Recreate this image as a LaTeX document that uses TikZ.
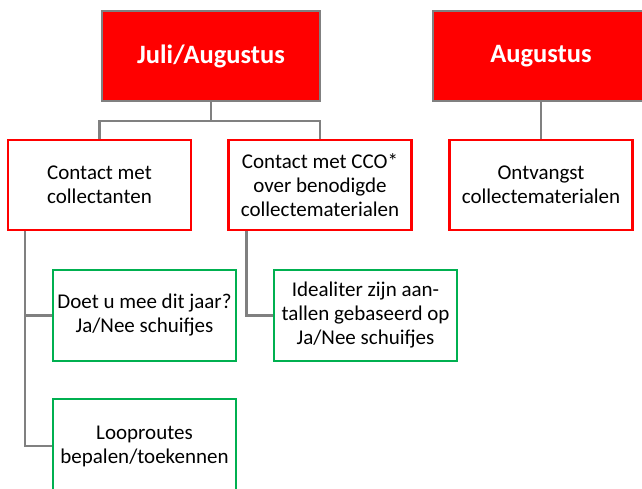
\documentclass[tikz,border=0pt]{standalone}
\usepackage{fontspec}
\setmainfont{Carlito}
\definecolor{kopred}{RGB}{255,0,0}
\definecolor{lijngrijs}{RGB}{128,128,128}
\definecolor{taakgroen}{RGB}{0,176,80}
\begin{document}
\begin{tikzpicture}[x=1pt,y=-1pt,
    topbox/.style={draw=lijngrijs,line width=2.5pt,fill=kopred,text=white,font=\fontsize{26.5}{30}\selectfont\bfseries,minimum height=90pt,inner sep=0pt},
    redbox/.style={draw=kopred,line width=2.2pt,fill=white,align=center,font=\fontsize{21}{24}\selectfont,minimum width=183pt,minimum height=90pt,inner sep=0pt},
    greenbox/.style={draw=taakgroen,line width=2.2pt,fill=white,align=center,font=\fontsize{21}{24}\selectfont,minimum width=183pt,minimum height=91pt,inner sep=0pt},
    conn/.style={draw=lijngrijs,line width=2.5pt}]
                \clip (0,0) rectangle (642,489);
                \fill[white] (0,0) rectangle (642,489);
                % kopjes
                \node[topbox,minimum width=218pt] (juli) at (211,56) {Juli/Augustus};
                \node[topbox,minimum width=216pt] (aug) at (541,56) {Augustus};
                % eerste niveau
                \node[redbox] (contact) at (99.5,185) {Contact met\\collectanten};
                \node[redbox] (cco) at (320,185) {Contact met CCO*\\over benodigde\\collectematerialen};
                \node[redbox] (ontv) at (541,185) {Ontvangst\\collectematerialen};
                % taken
                \node[greenbox] (doet) at (144.5,315.5) {Doet u mee dit jaar?\\Ja/Nee schuifjes};
                \node[greenbox,minimum height=94pt] (loop) at (144.5,446) {Looproutes\\bepalen/toekennen};
                \node[greenbox] (ideal) at (365.5,315.5) {Idealiter zijn aan-\\tallen gebaseerd op\\Ja/Nee schuifjes};
                % lijnen
                \coordinate (split) at (211,121);
                \draw[conn] (juli.south) -- (split);
                \draw[conn] (contact.north) |- (split) -| (cco.north);
                \draw[conn] (aug.south) -- (ontv.north);
                \draw[conn] ([xshift=18pt]contact.south west) |- (doet.west);
                \draw[conn] ([xshift=18pt]contact.south west) |- (loop.west);
                \draw[conn] ([xshift=19pt]cco.south west) |- (ideal.west);
            \end{tikzpicture}
\end{document}
